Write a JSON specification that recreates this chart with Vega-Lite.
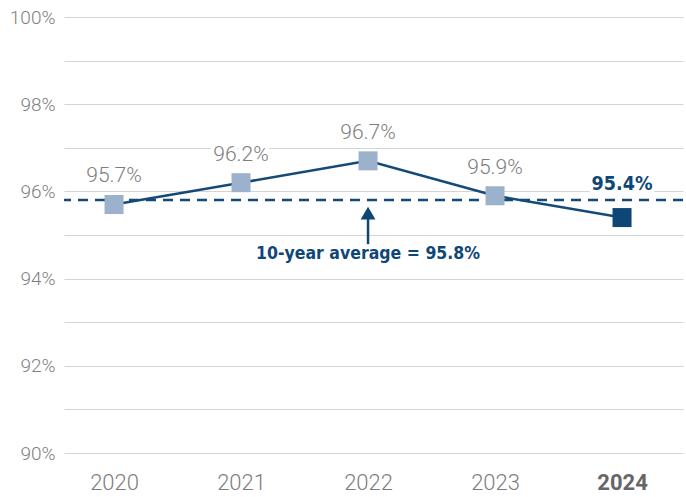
{
  "$schema": "https://vega.github.io/schema/vega-lite/v6.json",
  "width": 619,
  "height": 436,
  "autosize": {"type": "none"},
  "padding": {"left": 64, "top": 17, "right": 3, "bottom": 44},
  "background": "white",
  "config": {
    "view": {"stroke": null},
    "font": "Roboto"
  },
  "datasets": {
    "rates": [
      {"year": 2020, "rate": 95.7},
      {"year": 2021, "rate": 96.2},
      {"year": 2022, "rate": 96.7},
      {"year": 2023, "rate": 95.9},
      {"year": 2024, "rate": 95.4}
    ],
    "average": [
      {"rate": 95.8}
    ],
    "arrow": [
      {"year": 2022, "start": 94.79, "tip": 95.45, "head": 95.5, "textY": 94.56, "note": "10-year average = 95.8%"}
    ]
  },
  "encoding": {
    "x": {
      "field": "year",
      "type": "quantitative",
      "scale": {"domain": [2019.606, 2024.48], "nice": false, "zero": false},
      "axis": {
        "title": null,
        "values": [2020, 2021, 2022, 2023, 2024],
        "format": "d",
        "grid": false,
        "domain": false,
        "ticks": false,
        "labelFont": "Roboto",
        "labelFontSize": 22,
        "labelPadding": 19,
        "labelFontWeight": {"expr": "datum.value == 2024 ? 'bold' : 300"},
        "labelColor": {"expr": "datum.value == 2024 ? '#666666' : '#7d7d7d'"}
      }
    }
  },
  "layer": [
    {
      "data": {"name": "average"},
      "mark": {"type": "rule", "color": "#134a78", "strokeWidth": 2.5, "strokeDash": [10, 7]},
      "encoding": {
        "x": null,
        "y": {
          "field": "rate",
          "type": "quantitative",
          "scale": {"domain": [90, 100], "nice": false, "zero": false},
          "axis": {
            "title": null,
            "values": [90, 91, 92, 93, 94, 95, 96, 97, 98, 99, 100],
            "labelExpr": "datum.value % 2 == 0 ? datum.value + '%' : ''",
            "grid": true,
            "gridColor": "#d4d4d4",
            "gridWidth": 1.2,
            "domain": false,
            "ticks": false,
            "labelFont": "Roboto",
            "labelFontWeight": 300,
            "labelFontSize": 19,
            "labelColor": "#808080",
            "labelPadding": 9
          }
        }
      }
    },
    {
      "data": {"name": "rates"},
      "mark": {"type": "line", "color": "#134a78", "strokeWidth": 2.5},
      "encoding": {
        "y": {"field": "rate", "type": "quantitative"}
      }
    },
    {
      "data": {"name": "rates"},
      "mark": {"type": "square", "size": 361, "opacity": 1, "filled": true},
      "encoding": {
        "y": {"field": "rate", "type": "quantitative"},
        "color": {
          "condition": {"test": "datum.year == 2024", "value": "#0e4777"},
          "value": "#9bb1cc"
        }
      }
    },
    {
      "data": {"name": "rates"},
      "transform": [
        {"filter": "datum.year < 2024"},
        {"calculate": "format(datum.rate, '.1f') + '%'", "as": "label"}
      ],
      "mark": {"type": "text", "fontSize": 21, "fontWeight": 300, "dy": -28, "baseline": "middle", "stroke": "white", "strokeWidth": 8, "strokeJoin": "round", "color": "white"},
      "encoding": {
        "y": {"field": "rate", "type": "quantitative"},
        "text": {"field": "label"}
      }
    },
    {
      "data": {"name": "rates"},
      "transform": [
        {"filter": "datum.year < 2024"},
        {"calculate": "format(datum.rate, '.1f') + '%'", "as": "label"}
      ],
      "mark": {"type": "text", "fontSize": 21, "fontWeight": 300, "dy": -28, "baseline": "middle", "color": "#7d7d7d"},
      "encoding": {
        "y": {"field": "rate", "type": "quantitative"},
        "text": {"field": "label"}
      }
    },
    {
      "data": {"name": "rates"},
      "transform": [
        {"filter": "datum.year == 2024"},
        {"calculate": "format(datum.rate, '.1f') + '%'", "as": "label"}
      ],
      "mark": {"type": "text", "font": "DejaVu Sans Condensed", "fontWeight": "bold", "fontSize": 19.5, "dy": -34, "baseline": "middle", "stroke": "white", "strokeWidth": 8, "strokeJoin": "round", "color": "white"},
      "encoding": {
        "y": {"field": "rate", "type": "quantitative"},
        "text": {"field": "label"}
      }
    },
    {
      "data": {"name": "rates"},
      "transform": [
        {"filter": "datum.year == 2024"},
        {"calculate": "format(datum.rate, '.1f') + '%'", "as": "label"}
      ],
      "mark": {"type": "text", "font": "DejaVu Sans Condensed", "fontWeight": "bold", "fontSize": 19.5, "dy": -34, "baseline": "middle", "color": "#0e4777"},
      "encoding": {
        "y": {"field": "rate", "type": "quantitative"},
        "text": {"field": "label"}
      }
    },
    {
      "data": {"name": "arrow"},
      "mark": {"type": "rule", "color": "#0e4777", "strokeWidth": 2.5},
      "encoding": {
        "y": {"field": "start", "type": "quantitative"},
        "y2": {"field": "tip"}
      }
    },
    {
      "data": {"name": "arrow"},
      "mark": {"type": "point", "shape": "triangle-up", "filled": true, "opacity": 1, "color": "#0e4777", "size": 220},
      "encoding": {
        "y": {"field": "head", "type": "quantitative"}
      }
    },
    {
      "data": {"name": "arrow"},
      "mark": {"type": "text", "font": "DejaVu Sans Condensed", "fontWeight": "bold", "fontSize": 17.5, "baseline": "middle", "color": "#0e4777"},
      "encoding": {
        "y": {"field": "textY", "type": "quantitative"},
        "text": {"field": "note"}
      }
    }
  ]
}
